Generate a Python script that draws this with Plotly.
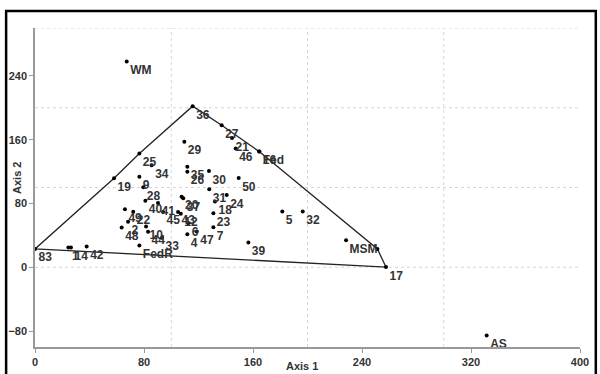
import plotly.graph_objects as go

# ---- data ----
names = ["WM", "36", "27", "21", "46", "Fed", "16", "29", "25", "34", "35", "26", "30", "50",
         "19", "9", "28", "31", "24", "18", "23", "7", "47", "4", "6", "20", "37", "40", "41",
         "45", "43", "12", "49", "22", "2", "48", "10", "44", "33", "FedR", "83", "1", "14", "42",
         "5", "32", "39", "MSM", "", "17", "AS"]
xs = [67.3, 115.7, 137.0, 144.6, 147.3, 164.6, 164.6, 109.6, 76.6, 85.6, 111.8, 111.8, 127.7, 149.5,
      58.0, 76.6, 79.5, 127.9, 140.7, 132.1, 130.9, 130.9, 118.7, 111.8, 112.5, 107.6, 108.8, 81.0, 90.3,
      94.0, 105.0, 107.0, 66.0, 72.1, 68.3, 63.6, 81.5, 83.0, 93.2, 76.6, 0.0, 24.5, 26.4, 37.9,
      181.5, 196.5, 156.6, 228.3, 251.3, 257.6, 331.5]
ys = [258.0, 202.0, 178.0, 162.0, 149.0, 145.0, 145.0, 157.3, 142.7, 128.0, 126.0, 119.8, 120.6, 111.9,
      111.5, 113.5, 100.2, 97.8, 90.6, 82.3, 67.7, 50.2, 44.7, 41.5, 55.2, 88.5, 86.5, 83.5, 80.6,
      69.4, 69.4, 67.0, 72.7, 69.7, 57.0, 49.8, 51.0, 44.4, 36.9, 27.3, 23.0, 24.8, 24.8, 26.0,
      69.8, 69.8, 31.0, 34.0, 23.0, 0.2, -85.6]

hull_order = ["83", "19", "25", "36", "27", "Fed", "", "17", "83"]

x_ticks = [0, 80, 160, 240, 320, 400]
y_ticks = [-80, 0, 80, 160, 240]
x_grid = [100, 200, 300]
y_grid = [0, 100, 200, 300]

# ---- figure ----
idx = {n: i for i, n in enumerate(names)}
hx = [xs[idx[n]] for n in hull_order]
hy = [ys[idx[n]] for n in hull_order]

fig = go.Figure()
fig.add_trace(go.Scatter(x=hx, y=hy, mode="lines",
                         line=dict(color="#222222", width=1.3), hoverinfo="skip"))
fig.add_trace(go.Scatter(x=xs, y=ys, mode="markers+text", text=names,
                         textposition="bottom right",
                         textfont=dict(family="Liberation Sans, Arial", size=12, color="#333333",
                                       weight="bold"),
                         marker=dict(color="black", size=4)))

shapes = []
for gx in x_grid:
    shapes.append(dict(type="line", xref="x", yref="y", x0=gx, x1=gx, y0=-100, y1=300,
                       line=dict(color="#d6d6d6", width=1, dash="dot"), layer="below"))
for gy in y_grid:
    shapes.append(dict(type="line", xref="x", yref="y", x0=0, x1=400, y0=gy, y1=gy,
                       line=dict(color="#d6d6d6", width=1, dash="dot"), layer="below"))
# outer frame
shapes.append(dict(type="rect", xref="paper", yref="paper", x0=-0.053, x1=1.029, y0=-0.12, y1=1.053,
                   line=dict(color="black", width=2.5)))

axis_font = dict(family="Liberation Sans, Arial", size=11, color="#333333", weight="bold")
fig.update_layout(
    width=600, height=374,
    margin=dict(l=35, r=20, t=28, b=27),
    paper_bgcolor="white", plot_bgcolor="white",
    showlegend=False,
    shapes=shapes,
    font=dict(family="Liberation Sans, Arial"),
    xaxis=dict(range=[0, 400], tickvals=x_ticks, automargin=False,
               showgrid=False, zeroline=False, showline=True, linecolor="#999999", linewidth=1.5,
               ticks="outside", ticklen=4, tickcolor="#999999", tickfont=axis_font),
    yaxis=dict(range=[-100, 300], tickvals=y_ticks, automargin=False,
               showgrid=False, zeroline=False, showline=True, linecolor="#999999", linewidth=1.5,
               ticks="outside", ticklen=4, tickcolor="#999999", tickfont=axis_font),
    annotations=[
        dict(text="Axis 1", xref="paper", yref="paper", x=0.49, y=-0.06,
             showarrow=False, font=axis_font, xanchor="center", yanchor="middle"),
        dict(text="Axis 2", xref="paper", yref="paper", x=-0.033, y=0.53,
             showarrow=False, font=axis_font, textangle=-90, xanchor="center", yanchor="middle"),
    ],
)

fig.write_html("out.html", config={"displayModeBar": False},
               post_script="document.body.style.margin='0';document.body.style.overflow='hidden';")
